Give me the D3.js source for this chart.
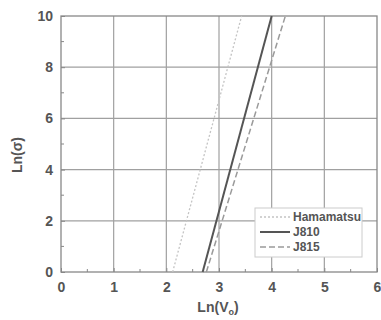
<!DOCTYPE html>
<html>
<head>
<meta charset="utf-8">
<script src="https://cdn.jsdelivr.net/npm/d3@7"></script>
<style>
body { margin: 0; background: #fff; }
text { font-family: "Liberation Sans", Arial, sans-serif; }
</style>
</head>
<body>
<div id="chart"></div>
<script>
// series: straight lines given by end points (x = Ln(Vo), y = Ln(sigma))
var seriesNames = ["Hamamatsu", "J810", "J815"];
var hamamatsuX = [2.12, 3.43];
var hamamatsuY = [0, 10];
var j810X = [2.69, 4.0];
var j810Y = [0, 10];
var j815X = [2.76, 4.26];
var j815Y = [0, 10];
var xTicks = [0, 1, 2, 3, 4, 5, 6];
var yTicks = [0, 2, 4, 6, 8, 10];

var width = 381, height = 320;
var margin = {top: 16, right: 4, bottom: 48, left: 61};

var svg = d3.select('#chart')
    .append('svg')
    .attr('width', width)
    .attr('height', height);

var x = d3.scaleLinear().domain([0, 6]).range([margin.left, width - margin.right]);
var y = d3.scaleLinear().domain([0, 10]).range([height - margin.bottom, margin.top]);

// grid
svg.append('g').selectAll('line')
    .data(xTicks.slice(1, -1))
    .enter().append('line')
    .attr('x1', d => x(d)).attr('x2', d => x(d))
    .attr('y1', y(0)).attr('y2', y(10))
    .attr('stroke', '#a0a0a0').attr('stroke-width', 1.2);
svg.append('g').selectAll('line')
    .data(yTicks.slice(1, -1))
    .enter().append('line')
    .attr('x1', x(0)).attr('x2', x(6))
    .attr('y1', d => y(d)).attr('y2', d => y(d))
    .attr('stroke', '#a0a0a0').attr('stroke-width', 1.2);

// axes
var xAxis = svg.append('g')
    .attr('transform', 'translate(0,' + y(0) + ')')
    .call(d3.axisBottom(x).tickValues(xTicks).tickFormat(d3.format('d')).tickSize(-4).tickPadding(10));
var yAxis = svg.append('g')
    .attr('transform', 'translate(' + x(0) + ',0)')
    .call(d3.axisLeft(y).tickValues(yTicks).tickFormat(d3.format('d')).tickSize(-4).tickPadding(8));

// minor ticks
svg.append('g').selectAll('line')
    .data(d3.range(0.5, 6, 1))
    .enter().append('line')
    .attr('x1', d => x(d)).attr('x2', d => x(d))
    .attr('y1', y(0)).attr('y2', y(0) - 3)
    .attr('stroke', '#888');
svg.append('g').selectAll('line')
    .data(d3.range(1, 10, 2))
    .enter().append('line')
    .attr('x1', x(0)).attr('x2', x(0) + 3)
    .attr('y1', d => y(d)).attr('y2', d => y(d))
    .attr('stroke', '#888');

[xAxis, yAxis].forEach(function (a) {
    a.select('.domain').remove();
    a.selectAll('line').attr('stroke', '#888');
    a.selectAll('text').attr('font-size', 14).attr('fill', '#555').attr('font-weight', 'bold');
});

// frame
svg.append('rect')
    .attr('x', x(0)).attr('y', y(10))
    .attr('width', x(6) - x(0)).attr('height', y(0) - y(10))
    .attr('fill', 'none').attr('stroke', '#888').attr('stroke-width', 1.3);

// lines
var lineStyles = [
    {xs: hamamatsuX, ys: hamamatsuY, color: '#c4c4c4', width: 1.3, dash: '2,2'},
    {xs: j810X, ys: j810Y, color: '#555', width: 2, dash: null},
    {xs: j815X, ys: j815Y, color: '#9a9a9a', width: 1.5, dash: '6,3'}
];
var line = d3.line().x(d => x(d[0])).y(d => y(d[1]));
lineStyles.forEach(function (s) {
    svg.append('path')
        .datum(d3.zip(s.xs, s.ys))
        .attr('d', line)
        .attr('fill', 'none')
        .attr('stroke', s.color)
        .attr('stroke-width', s.width)
        .attr('stroke-dasharray', s.dash);
});

// legend
var legend = svg.append('g').attr('transform', 'translate(255,208)');
legend.append('rect')
    .attr('width', 107).attr('height', 49)
    .attr('fill', '#fff').attr('stroke', '#ccc');
seriesNames.forEach(function (name, i) {
    var s = lineStyles[i];
    var yy = 9 + i * 15;
    legend.append('line')
        .attr('x1', 5).attr('x2', 35).attr('y1', yy).attr('y2', yy)
        .attr('stroke', s.color).attr('stroke-width', s.width)
        .attr('stroke-dasharray', s.dash);
    legend.append('text')
        .attr('x', 38).attr('y', yy + 4)
        .attr('font-size', 12).attr('fill', '#555').attr('font-weight', 'bold')
        .text(name);
});

// axis titles
var xt = svg.append('text')
    .attr('x', 218).attr('y', 312)
    .attr('text-anchor', 'middle')
    .attr('font-size', 14).attr('fill', '#555').attr('font-weight', 'bold');
xt.append('tspan').text('Ln(V');
xt.append('tspan').attr('font-size', 9).attr('dy', 3).text('o');
xt.append('tspan').attr('dy', -3).text(')');

svg.append('text')
    .attr('transform', 'translate(22,155) rotate(-90)')
    .attr('text-anchor', 'middle')
    .attr('font-size', 14).attr('fill', '#555').attr('font-weight', 'bold')
    .text('Ln(σ)');
</script>
</body>
</html>
